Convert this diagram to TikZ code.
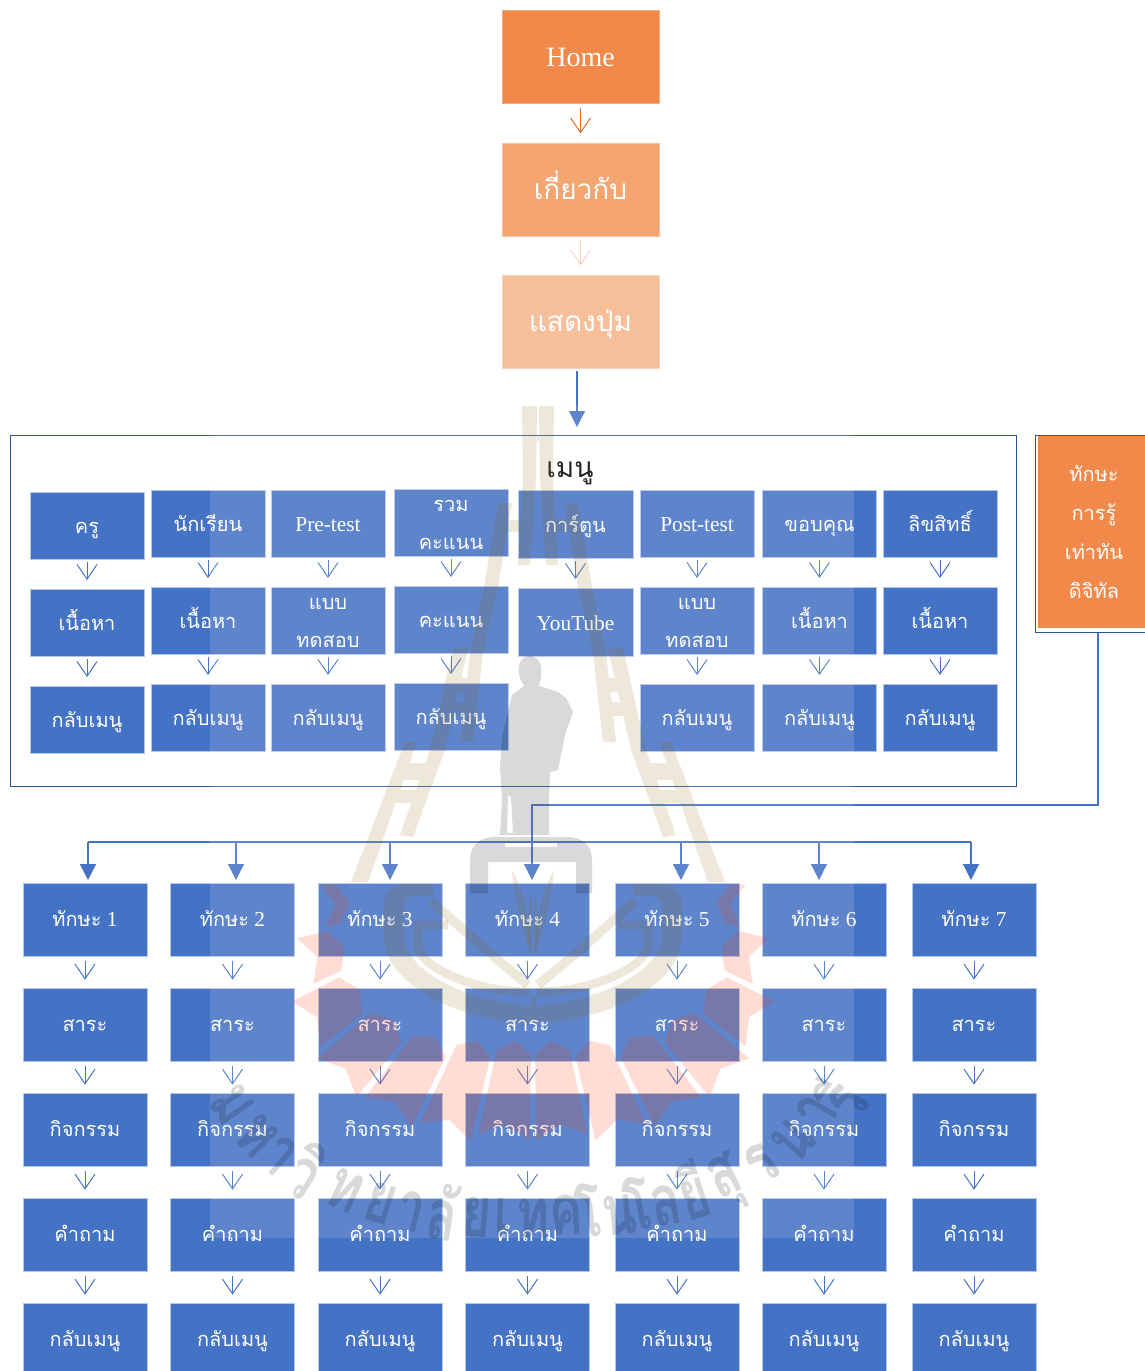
\documentclass[tikz,border=0pt]{standalone}
\usepackage{fontspec}
\setmainfont{Liberation Serif}
\newfontfamily\thaif[Script=Thai]{Loma}
\usetikzlibrary{arrows.meta,calc}
\definecolor{boxblue}{HTML}{4472C4}
\definecolor{boxedge}{HTML}{B4C7E7}
\definecolor{framecol}{HTML}{2F5597}
\definecolor{orA}{HTML}{F0894A}
\definecolor{orB}{HTML}{F4A570}
\definecolor{orC}{HTML}{F6BF9A}
\definecolor{arA}{HTML}{E36C25}
\definecolor{arB}{HTML}{F9D3C2}
\definecolor{tanink}{rgb}{.54,.38,0}
\definecolor{redink}{rgb}{1,.19,0}
\tikzset{
 baseb/.style={rectangle,inner sep=0pt,text=white,draw=boxedge,line width=.5pt,fill=boxblue,
   font=\fontsize{16}{28.5}\selectfont},
 upbox/.style={baseb,minimum width=85.5pt,minimum height=50.25pt,text height=14.4pt,text depth=2.4pt},
 lowbox/.style={baseb,minimum width=93pt,minimum height=54.75pt,text height=14pt,text depth=2.8pt},
 topbox/.style={rectangle,inner sep=0pt,text=white,minimum width=117.75pt,minimum height=69.75pt,draw=#1!70!white,line width=.5pt,fill=#1,text height=15pt,text depth=.5pt},
 varrow/.style={-{Straight Barb[length=11pt,width=15pt]},line width=.75pt,draw=boxblue},
 farrow/.style={-{Triangle[length=12pt,width=12pt]},line width=.9pt,draw=boxblue,fill=boxblue},
 busline/.style={line width=.85pt,draw=boxblue},
 tanfill/.style={fill=tanink,opacity=.145},
 tanline/.style={draw=tanink,opacity=.145},
 redfill/.style={fill=redink,opacity=.165},
 grayfill/.style={fill=black,opacity=.15},
 wmt/.style={inner sep=0pt,text=black,opacity=.15,font=\thaif\bfseries\fontsize{46}{46}\selectfont},
}
\newcommand{\tht}[1]{{\thaif\fontsize{15}{28.5}\selectfont #1}}
\newcommand{\twol}[2]{\hbox to 0pt{\hss\raisebox{14.25pt}[0pt][0pt]{\tht{#1}}\hss}\hbox to 0pt{\hss\raisebox{-14.25pt}[0pt][0pt]{\tht{#2}}\hss}}
\newcommand{\wl}[1]{\scalebox{.82}[1.15]{#1}}
\newcommand{\towerhalf}{%
 \fill[tanfill] (522,406)--(537,406)--(536,480)--(530,565)--(518,565)--(523,480)--cycle
  (498,503)--(512,503)--(498,587)--(483,653)--(473,742)--(460,742)--(470,653)--(484,587)--cycle
  (510,520)--(525,520)--(524,532)--(508,532)--cycle
  (453,648)--(468,648)--(445,750)--(413,837)--(400,835)--(430,750)--cycle
  (455,678)--(478,678)--(476,692)--(450,692)--cycle
  (447,702)--(474,702)--(472,716)--(443,716)--cycle
  (405,742)--(417,742)--(368,882)--(351,882)--cycle
  (402,763)--(432,763)--(428,780)--(394,780)--cycle
  (390,790)--(424,790)--(418,803)--(384,803)--cycle;
}
\newcommand{\logohalf}{%
 \fill[tanfill] (433,884)--(405,884) .. controls (392,884) and (384,892) .. (384,905)--(384,935)
   .. controls (384,990) and (470,1023) .. (533,1023)--(533,1005)
   .. controls (480,1005) and (404,975) .. (404,935)--(404,908)
   .. controls (404,900) and (408,896) .. (414,896)--(433,896)--cycle;
 \draw[tanline,line width=7pt] (431,901)--(486,950)--(528,985);
 \draw[tanline,line width=6.5pt] (448,925)--(418,925)--(418,945) .. controls (418,965) and (470,992) .. (530,992);
 \fill[tanfill] (512,870) .. controls (515,905) and (522,930) .. (531,955) .. controls (531,925) and (526,895) .. (512,870)--cycle;
 \fill[tanfill] (532,893) .. controls (526,915) and (526,935) .. (532,958)--cycle;
}
\begin{document}
\begin{tikzpicture}[x=.75pt,y=-.75pt]
\useasboundingbox (0,0) rectangle (1145,1371);
\clip (0,0) rectangle (1145,1371);
% ---------- top column
\node[topbox=orA,font=\fontsize{21}{24}\selectfont] (home) at (580.5,57) {Home};
\node[topbox=orB] (about) at (580.5,189.5) {\thaif\fontsize{21}{24}\selectfont เกี่ยวกับ};
\node[topbox=orC] (btn) at (580.5,321.5) {\thaif\fontsize{21}{24}\selectfont แสดงปุ่ม};
\draw[varrow,draw=arA,shorten <=3pt,shorten >=7pt] (home) -- (about);
\draw[varrow,draw=arB,shorten <=3pt,shorten >=7pt] (about) -- (btn);
% ---------- menu frame
\node[rectangle,draw=framecol,line width=.75pt,minimum width=754.5pt,minimum height=263.25pt,inner sep=0pt] (frame) at (513,610.5) {};
\node[inner sep=0pt,text=black,text height=13.5pt,text depth=0pt] (menu) at (570,468) {\thaif\fontsize{21}{24}\selectfont เมนู};
\coordinate (menuin) at (577,435);
\draw[farrow,shorten <=2pt,shorten >=6pt] (menuin |- btn.south) -- (menuin);
% ---------- menu columns
\foreach \n/\cx/\ya/\yb/\yc/\ta/\tb in {
 1/87/525.5/622.5/719.5/\tht{ครู}/\tht{เนื้อหา},
 2/208/523.5/620.5/717.5/\tht{นักเรียน}/\tht{เนื้อหา},
 3/328/523.5/620.5/717.5/Pre-test/\twol{แบบ}{ทดสอบ},
 4/451/522.5/619.5/716.5/\twol{รวม}{คะแนน}/\tht{คะแนน},
 6/697/523.5/620.5/717.5/Post-test/\twol{แบบ}{ทดสอบ},
 7/819.5/523.5/620.5/717.5/\tht{ขอบคุณ}/\tht{เนื้อหา},
 8/940/523.5/620.5/717.5/\tht{ลิขสิทธิ์}/\tht{เนื้อหา}}{
 \node[upbox] (ma\n) at (\cx,\ya) {\ta};
 \node[upbox] (mb\n) at (\cx,\yb) {\tb};
 \node[upbox] (mc\n) at (\cx,\yc) {\tht{กลับเมนู}};
 \draw[varrow,shorten <=2.3pt,shorten >=6.5pt] (ma\n) -- (mb\n);
 \draw[varrow,shorten <=2.3pt,shorten >=6.5pt] (mb\n) -- (mc\n);
}
\node[upbox,minimum width=86.25pt,minimum height=51pt] (ma5) at (575.5,524) {\tht{การ์ตูน}};
\node[upbox,minimum width=86.25pt,minimum height=51pt] (mb5) at (575.5,622) {YouTube};
\draw[varrow,shorten <=2.3pt,shorten >=6.5pt] (ma5) -- (mb5);
% ---------- skill box
\node[rectangle,draw=framecol,fill=white,line width=.75pt,minimum width=100pt,minimum height=147.75pt,inner sep=0pt] (skframe) at (1101.7,533.5) {};
\node[rectangle,fill=orA,minimum width=84pt,minimum height=144pt,inner sep=0pt,text=white,align=center,font=\fontsize{16}{29.2}\selectfont] (skill) at (1094,532) {\tht{ทักษะ}\\\tht{การรู้}\\\tht{เท่าทัน}\\\tht{ดิจิทัล}};
\coordinate (bendA) at (1098,805);
\coordinate (bendB) at (532,805);
\coordinate (bus1) at (88,842);
\coordinate (bus2) at (236,842);
\coordinate (bus3) at (390,842);
\coordinate (bus4) at (532,842);
\coordinate (bus5) at (681,842);
\coordinate (bus6) at (819,842);
\coordinate (bus7) at (971,842);
\draw[busline] (bus1) -- (bus7);
\draw[busline] (skframe.south -| bendA) -- (bendA) -- (bendB) -- (bus4);
% ---------- skill columns
\foreach \c/\cx in {1/85,2/232.5,3/380,4/527.5,5/677,6/824,7/974}{
 \node[lowbox] (sa\c) at (\cx,919.5) {\tht{ทักษะ} \c};
 \node[lowbox] (sb\c) at (\cx,1024.5) {\tht{สาระ}};
 \node[lowbox] (sc\c) at (\cx,1129.5) {\tht{กิจกรรม}};
 \node[lowbox] (sd\c) at (\cx,1234.5) {\tht{คำถาม}};
 \node[lowbox] (se\c) at (\cx,1339.5) {\tht{กลับเมนู}};
 \draw[farrow,shorten >=2pt] (bus\c) -- (bus\c |- sa\c.north);
 \draw[varrow,shorten <=3.5pt,shorten >=6pt] (sa\c) -- (sb\c);
 \draw[varrow,shorten <=3.5pt,shorten >=6pt] (sb\c) -- (sc\c);
 \draw[varrow,shorten <=3.5pt,shorten >=6pt] (sc\c) -- (sd\c);
 \draw[varrow,shorten <=3.5pt,shorten >=6pt] (sd\c) -- (se\c);
}
% ---------- watermark picture laid over everything
\fill[white,opacity=.14] (210,405) rectangle (854,1238);
 % rays
 \foreach \t/\ri/\ro in {6.4/162/260,19.2/170/268,32/185/275,44.8/197/280,57.6/205/270,70.4/200/243,83/185/213}{
  \foreach \s in {-1,1}{
   \pgfmathsetmacro\ta{\t-5.7}\pgfmathsetmacro\tb{\t+5.7}
   \fill[redfill] ({533+\s*(\ri+12)*sin(\ta)},{880+(\ri+12)*cos(\ta)})
     -- ({533+\s*\ri*sin(\t)},{880+\ri*cos(\t)})
     -- ({533+\s*(\ri+12)*sin(\tb)},{880+(\ri+12)*cos(\tb)})
     -- ({533+\s*\ro*sin(\tb)},{880+\ro*cos(\tb)})
     -- ({533+\s*(\ro-14)*sin(\t)},{880+(\ro-14)*cos(\t)})
     -- ({533+\s*\ro*sin(\ta)},{880+\ro*cos(\ta)}) -- cycle;
  }
 }
 % tower
 \towerhalf
 \begin{scope}[shift={(1076,0)},xscale=-1]\towerhalf\end{scope}
 \fill[tanfill] (537,435) rectangle (539,441);
 % emblem
 \logohalf
 \begin{scope}[shift={(1066,0)},xscale=-1]\logohalf\end{scope}
 \fill[tanfill] (530,997) rectangle (536,1005);
 % statue and base
 \fill[grayfill,even odd rule] (530,656) .. controls (522,656) and (517,664) .. (519,674) .. controls (520,680) and (523,684) .. (524,686)
   -- (512,695) -- (502,737) -- (500,767) -- (502,800) -- (500,835) -- (549,835) -- (549,800) -- (550,772) -- (558,770) -- (565,735) -- (573,712)
   -- (566,698) -- (558,692) -- (539,686) .. controls (541,680) and (542,672) .. (541,666) .. controls (540,660) and (535,656) .. (530,656) -- cycle
   (507,833) -- (513,833) -- (511,797) -- (508,795) -- cycle;
 \fill[grayfill,even odd rule] (470,893) -- (470,860) .. controls (470,845) and (480,837) .. (495,837) -- (567,837)
   .. controls (582,837) and (592,845) .. (592,860) -- (592,893) -- (576,893) -- (576,862) -- (488,862) -- (488,893) -- cycle
   (505,843) rectangle (557,847);
 % lettering
 \node[wmt,rotate=-55] (w01) at (232,1105) {\wl{ม}};
 \node[wmt,rotate=-47] (w02) at (257,1136) {\wl{ห}};
 \node[wmt,rotate=-42] (w03) at (279,1155) {\wl{า}};
 \node[wmt,rotate=-32] (w04) at (307,1171) {\wl{วิ}};
 \node[wmt,rotate=-25] (w05) at (345,1191) {\wl{ท}};
 \node[wmt,rotate=-18] (w06) at (381,1203) {\wl{ย}};
 \node[wmt,rotate=-13] (w07) at (411,1211) {\wl{า}};
 \node[wmt,rotate=-9] (w08) at (443,1212) {\wl{ลั}};
 \node[wmt,rotate=-5] (w09) at (477,1217) {\wl{ย}};
 \node[wmt,rotate=-2] (w10) at (503,1218) {\wl{เ}};
 \node[wmt,rotate=0] (w11) at (533,1219) {\wl{ท}};
 \node[wmt,rotate=3] (w12) at (566,1215) {\wl{ค}};
 \node[wmt,rotate=6] (w13) at (605,1209) {\wl{โน}};
 \node[wmt,rotate=10] (w14) at (652,1201) {\wl{โล}};
 \node[wmt,rotate=18] (w15) at (692,1190) {\wl{ยี}};
 \node[wmt,rotate=25] (w16) at (727,1183) {\wl{สุ}};
 \node[wmt,rotate=38] (w17) at (762,1164) {\wl{ร}};
 \node[wmt,rotate=48] (w18) at (793,1141) {\wl{น}};
 \node[wmt,rotate=60] (w19) at (816,1112) {\wl{า}};
 \node[wmt,rotate=62] (w20) at (840,1098) {\wl{รี}};
\end{tikzpicture}
\end{document}
